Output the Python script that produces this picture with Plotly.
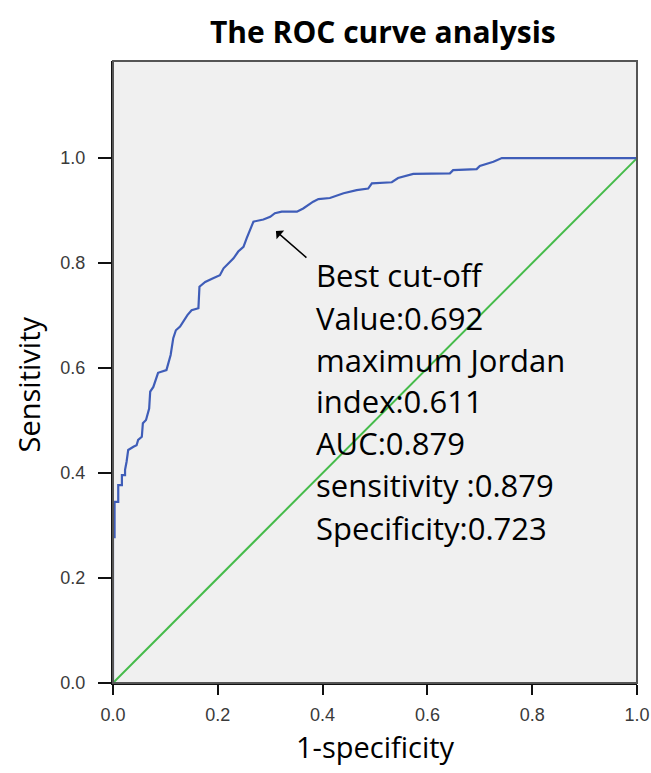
import plotly.graph_objects as go

# ROC curve points (1-specificity, sensitivity)
fpr = [0.000, 0.000, 0.003, 0.003, 0.010, 0.010, 0.017, 0.017, 0.023, 0.023,
       0.026, 0.029, 0.039, 0.045, 0.048, 0.055, 0.057, 0.063, 0.069, 0.071,
       0.077, 0.082, 0.086, 0.102, 0.106, 0.110, 0.115, 0.120, 0.128, 0.135,
       0.142, 0.150, 0.163, 0.165, 0.176, 0.191, 0.204, 0.211, 0.220, 0.230,
       0.239, 0.249, 0.255, 0.261, 0.268, 0.287, 0.300, 0.309, 0.322, 0.351,
       0.363, 0.382, 0.392, 0.414, 0.440, 0.465, 0.487, 0.494, 0.532, 0.544,
       0.573, 0.643, 0.649, 0.694, 0.700, 0.726, 0.742, 1.000]
tpr = [0.000, 0.278, 0.278, 0.345, 0.345, 0.377, 0.377, 0.396, 0.396, 0.406,
       0.422, 0.444, 0.450, 0.453, 0.463, 0.469, 0.495, 0.501, 0.523, 0.555,
       0.564, 0.577, 0.591, 0.596, 0.612, 0.625, 0.657, 0.672, 0.679, 0.691,
       0.701, 0.710, 0.714, 0.755, 0.764, 0.771, 0.777, 0.790, 0.799, 0.809,
       0.822, 0.831, 0.847, 0.863, 0.879, 0.883, 0.888, 0.895, 0.898, 0.898,
       0.904, 0.917, 0.922, 0.924, 0.933, 0.939, 0.942, 0.952, 0.954, 0.962,
       0.970, 0.971, 0.977, 0.979, 0.985, 0.993, 1.000, 1.000]

ref_x = [0.0, 1.0]
ref_y = [0.0, 1.0]

tick_vals = [0.0, 0.2, 0.4, 0.6, 0.8, 1.0]
tick_text = ["0.0", "0.2", "0.4", "0.6", "0.8", "1.0"]

title_text = "The ROC curve analysis"
x_title = "1-specificity"
y_title = "Sensitivity"
info_lines = ["Best cut-off", "Value:0.692", "maximum Jordan", "index:0.611",
              "AUC:0.879", "sensitivity :0.879", "Specificity:0.723"]

fig = go.Figure()
fig.add_trace(go.Scatter(x=ref_x, y=ref_y, mode="lines",
                         line=dict(color="#45bb4a", width=2), showlegend=False,
                         hoverinfo="skip"))
fig.add_trace(go.Scatter(x=fpr, y=tpr, mode="lines",
                         line=dict(color="#3f5db8", width=2.2), showlegend=False))

FONT = "Open Sans"
tickfont = dict(family="Liberation Sans, Arial", size=18, color="#3a3a3a")

fig.update_layout(
    width=651, height=773,
    margin=dict(l=113, r=14, t=61, b=90),
    paper_bgcolor="white",
    plot_bgcolor="#f0f0f0",
    showlegend=False,
    xaxis=dict(range=[0, 1], tickvals=tick_vals, ticktext=tick_text,
               showgrid=False, zeroline=False, showline=True, automargin=False,
               linecolor="#111111", linewidth=2, ticks="outside",
               ticklen=10, tickwidth=2, tickcolor="#111111",
               tickfont=tickfont, ticklabelstandoff=4),
    yaxis=dict(range=[0, 1.185], tickvals=tick_vals, ticktext=tick_text,
               showgrid=False, zeroline=False, showline=True, automargin=False,
               linecolor="#111111", linewidth=2, ticks="outside",
               ticklen=13, tickwidth=2, tickcolor="#111111",
               tickfont=tickfont, ticklabelstandoff=9),
)

# plot frame (top / right border)
fig.add_shape(type="rect", xref="paper", yref="paper", x0=0, y0=0, x1=1, y1=1,
              line=dict(color="#555555", width=2), layer="above")

anns = []
anns.append(dict(text="<b>" + title_text + "</b>", xref="paper", yref="paper",
                 x=0.515, y=1, yshift=30, xanchor="center", yanchor="middle",
                 showarrow=False, font=dict(family=FONT, size=30, color="black")))
anns.append(dict(text=x_title, xref="paper", yref="paper", x=0.500, y=0,
                 yshift=-63, xanchor="center", yanchor="middle", showarrow=False,
                 font=dict(family=FONT, size=29, color="black")))
anns.append(dict(text=y_title, xref="paper", yref="paper", x=0, y=0.48,
                 xshift=-85, xanchor="center", yanchor="middle", textangle=-90,
                 showarrow=False, font=dict(family=FONT, size=29, color="black")))

line_y = [0.777, 0.696, 0.616, 0.538, 0.458, 0.378, 0.296]
for txt, yy in zip(info_lines, line_y):
    anns.append(dict(text=txt, x=0.383, y=yy, xref="x", yref="y",
                     xanchor="left", yanchor="middle", showarrow=False,
                     font=dict(family=FONT, size=31, color="black")))

# arrow pointing to best cut-off
anns.append(dict(x=0.311, y=0.861, ax=0.372, ay=0.808, xref="x", yref="y",
                 axref="x", ayref="y", text="", showarrow=True, arrowhead=1,
                 arrowsize=1.3, arrowwidth=1.5, arrowcolor="black"))

fig.update_layout(annotations=anns)
# remove the browser's default 8px page margin so the figure fills the window
fig.write_html("out.html",
               config={"displayModeBar": False},
               post_script="document.body.style.margin='0';"
                           "document.body.style.overflow='hidden';")
